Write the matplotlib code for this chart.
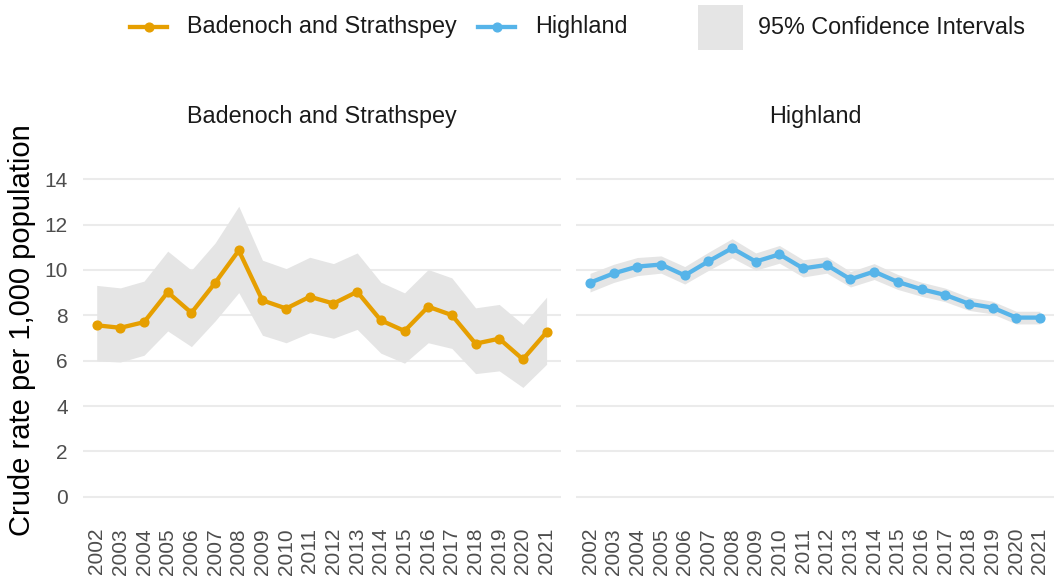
import numpy as np
import matplotlib.pyplot as plt
from matplotlib.lines import Line2D
from matplotlib.patches import Rectangle

plt.rcParams['font.family'] = ['Liberation Sans', 'DejaVu Sans']

# data
years = [str(y) for y in range(2002, 2022)]

bs_rate = [7.56, 7.45, 7.70, 9.02, 8.11, 9.43, 10.86, 8.66, 8.30, 8.82,
           8.52, 9.04, 7.78, 7.31, 8.38, 8.01, 6.75, 6.97, 6.06, 7.26]
bs_upper = [9.32, 9.21, 9.51, 10.83, 9.99, 11.19, 12.81, 10.43, 10.06, 10.56,
            10.28, 10.75, 9.46, 8.99, 10.02, 9.65, 8.33, 8.48, 7.60, 8.80]
bs_lower = [5.99, 5.94, 6.24, 7.31, 6.62, 7.75, 9.00, 7.12, 6.79, 7.23,
            6.99, 7.38, 6.33, 5.89, 6.79, 6.54, 5.43, 5.55, 4.82, 5.84]

hl_rate = [9.44, 9.85, 10.15, 10.24, 9.76, 10.38, 10.96, 10.37, 10.69, 10.07,
           10.22, 9.59, 9.93, 9.47, 9.15, 8.90, 8.51, 8.34, 7.90, 7.90]
hl_upper = [9.85, 10.25, 10.55, 10.62, 10.15, 10.78, 11.38, 10.75, 11.08, 10.45,
            10.58, 9.93, 10.28, 9.80, 9.46, 9.20, 8.80, 8.62, 8.18, 8.18]
hl_lower = [9.03, 9.45, 9.75, 9.86, 9.38, 9.98, 10.54, 9.99, 10.30, 9.69,
            9.86, 9.25, 9.58, 9.14, 8.84, 8.60, 8.22, 8.06, 7.62, 7.62]

panels = [
    ("Badenoch and Strathspey", bs_rate, bs_lower, bs_upper, "#E69F00"),
    ("Highland", hl_rate, hl_lower, hl_upper, "#56B4E9"),
]

W, H = 1055, 585
fig = plt.figure(figsize=(W / 100, H / 100), dpi=100)

ci_grey = "#E5E5E5"
grid_grey = "#EBEBEB"
tick_grey = "#4D4D4D"
x = np.arange(len(years))

lefts = [82.5, 575.8]
pw = 478.3
for (name, rate, lo, hi, col), left in zip(panels, lefts):
    ax = fig.add_axes([left / W, 1 - 512.6 / H, pw / W, 349.2 / H])
    ax.fill_between(x, lo, hi, color=ci_grey, lw=0, zorder=1)
    ax.plot(x, rate, color=col, lw=3.1, marker='o', markersize=6.3, zorder=3)
    ax.set_xlim(-0.6, len(years) - 0.4)
    ax.set_ylim(-0.7, 14.7)
    ax.set_yticks(range(0, 15, 2))
    ax.set_xticks(x)
    ax.set_xticklabels(years, rotation=90)
    ax.grid(axis='y', color=grid_grey, lw=1.5, zorder=0)
    ax.set_axisbelow(True)
    for s in ax.spines.values():
        s.set_visible(False)
    ax.tick_params(axis='both', length=0, labelsize=15, labelcolor=tick_grey)
    ax.tick_params(axis='x', pad=11)
    ax.tick_params(axis='y', pad=10.5)
    if left > 100:
        ax.set_yticklabels([])
    # facet strip title
    fig.text((left + pw / 2) / W, 1 - 117 / H, name, ha='center', va='center',
             fontsize=16.8, color="#1A1A1A")

fig.text(22 / W, 1 - 330 / H, "Crude rate per 1,000 population", rotation=90,
         va='center', ha='center', fontsize=21, color="black")

# legend across the top
ly = 1 - 27 / H
fig.add_artist(Line2D([130 / W, 167 / W], [ly, ly], color="#E69F00", lw=3.1,
                      transform=fig.transFigure))
fig.add_artist(Line2D([148.5 / W], [ly], color="#E69F00", marker='o', markersize=6.3,
                      transform=fig.transFigure))
fig.text(187 / W, ly, "Badenoch and Strathspey", va='center', ha='left',
         fontsize=16.8, color="#1A1A1A")
fig.add_artist(Line2D([478 / W, 515 / W], [ly, ly], color="#56B4E9", lw=3.1,
                      transform=fig.transFigure))
fig.add_artist(Line2D([496.5 / W], [ly], color="#56B4E9", marker='o', markersize=6.3,
                      transform=fig.transFigure))
fig.text(535 / W, ly, "Highland", va='center', ha='left',
         fontsize=16.8, color="#1A1A1A")
fig.add_artist(Rectangle((698 / W, 1 - 50 / H), 45 / W, 45 / H, color=ci_grey,
                         lw=0, transform=fig.transFigure))
fig.text(758 / W, ly, "95% Confidence Intervals", va='center', ha='left',
         fontsize=16.8, color="#1A1A1A")

fig.savefig("out.png", dpi=100, facecolor="white")
